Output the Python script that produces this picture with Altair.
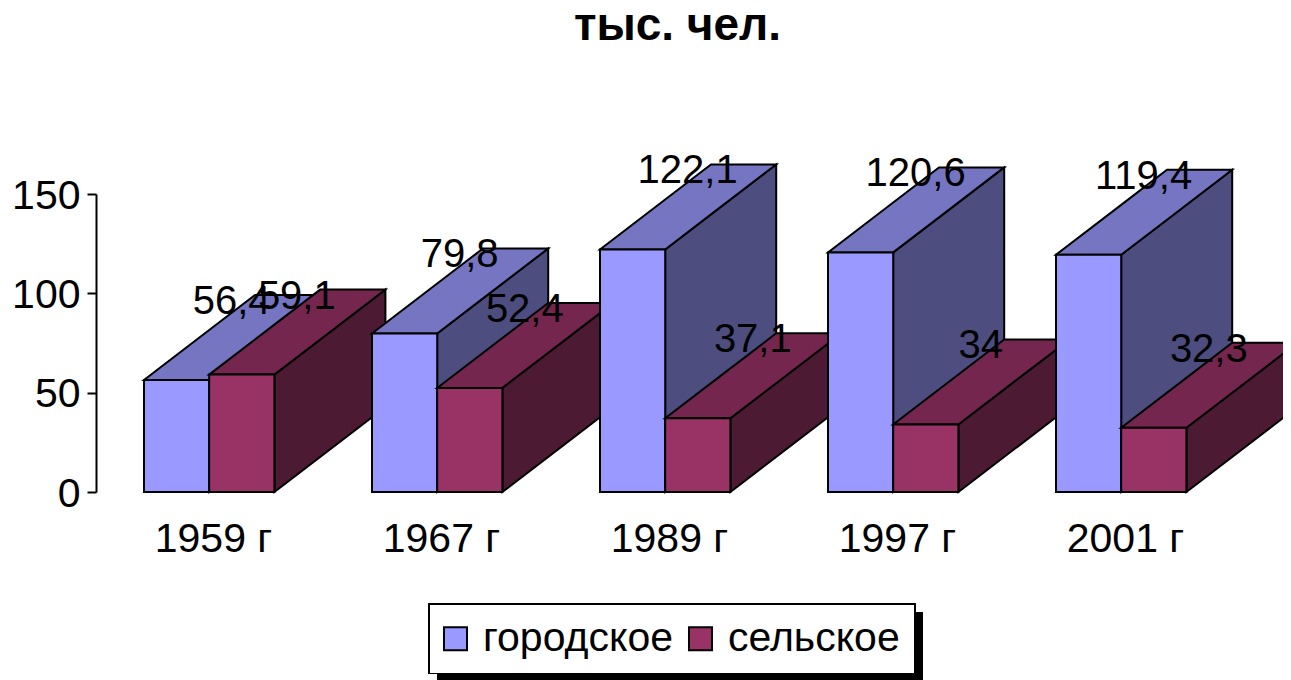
import json
import altair as alt
import pandas as pd

categories = ["1959 г", "1967 г", "1989 г", "1997 г", "2001 г"]
urban = [56.4, 79.8, 122.1, 120.6, 119.4]
rural = [59.1, 52.4, 37.1, 34, 32.3]
series_names = ["городское", "сельское"]
series_values = [urban, rural]

FONT = "Liberation Sans"
PITCH = 228.0            # pixels per category
W = 65.2 / PITCH         # front-face width, in category units
DX = 111 / PITCH         # depth along x, in category units
DY = 85 / (298 / 150)    # depth along y, in value units
GROUP_LEFT = -65 / PITCH

kinds = {
    "городское": ["городское", "городское верх", "городское бок"],
    "сельское": ["сельское", "сельское верх", "сельское бок"],
}
domain = ["городское", "сельское", "городское верх", "сельское верх", "городское бок", "сельское бок"]
colors = ["#9999FF", "#993366", "#7575C2", "#75264F", "#4D4D80", "#4D1A33"]

rows, labels = [], []
face = 0
for i, cat in enumerate(categories):
    for s, name in enumerate(series_names):
        v = series_values[s][i]
        x0 = i + GROUP_LEFT + s * W
        x1 = x0 + W
        front, top, side = kinds[name]

        def add(kind, pts):
            global face
            for x, y, y2 in pts:
                rows.append({"face": face, "kind": kind, "x": x, "y": y, "y2": y2})
            face += 1

        add(side, [(x1, 0, v), (x1 + DX, DY, v + DY)])
        add(top, [
            (x0, v, v),
            (x1, v, v + DY * W / DX),
            (x0 + DX, v + DY * (DX - W) / DX, v + DY),
            (x1 + DX, v + DY, v + DY),
        ])
        add(front, [(x0, 0, v), (x1, 0, v)])
        labels.append({"x": (x0 + x1) / 2, "y": v, "t": str(v).replace(".", ",")})

faces_df = pd.DataFrame(rows)
labels_df = pd.DataFrame(labels)

x_scale = alt.Scale(domain=[-113 / PITCH, 1074 / PITCH], nice=False, zero=False)
y_scale = alt.Scale(domain=[0, 150], nice=False)

label_expr = f"{json.dumps(categories, ensure_ascii=False)}[datum.value]"

x_axis = alt.Axis(
    values=list(range(len(categories))), labelExpr=label_expr, title=None, grid=False,
    domain=False, ticks=False, labelFont=FONT, labelFontSize=41, labelColor="black",
    labelPadding=27, labelOffset=4, labelOverlap=False, labelFlush=False)
y_axis = alt.Axis(
    values=[0, 50, 100, 150], title=None, grid=False, domainColor="black", domainWidth=2,
    tickColor="black", tickWidth=2, tickSize=9, labelFont=FONT, labelFontSize=41,
    labelColor="black", labelPadding=7, labelOffset=2)

faces = alt.Chart(faces_df).mark_area(stroke="black", strokeWidth=2, opacity=1, clip=False).encode(
    x=alt.X("x:Q", scale=x_scale, axis=x_axis),
    y=alt.Y("y:Q", stack=None, scale=y_scale, axis=y_axis),
    y2="y2:Q",
    detail="face:N",
    color=alt.Color("kind:N", scale=alt.Scale(domain=domain, range=colors), legend=alt.Legend(
        values=series_names, title=None, orient="none", legendX=333, legendY=410,
        direction="horizontal", columns=2, symbolType="square", symbolSize=530,
        symbolOffset=-8, symbolStrokeColor="black", symbolStrokeWidth=2, labelFont=FONT,
        labelFontSize=41, labelColor="black", labelLimit=400, fillColor="white",
        strokeColor="black", padding=14, columnPadding=11, labelOffset=7)),
)

text = alt.Chart(labels_df).mark_text(
    font=FONT, fontSize=40, color="black", dx=55, dy=-78, baseline="middle", align="center"
).encode(
    x=alt.X("x:Q", scale=x_scale, axis=x_axis),
    y=alt.Y("y:Q", scale=y_scale, axis=y_axis),
    text="t:N",
)

shadow = alt.Chart(alt.Data(values=[{}])).mark_rect(color="black").encode(
    x=alt.value(341), x2=alt.value(827), y=alt.value(418), y2=alt.value(486)
)
border = alt.Chart(alt.Data(values=[{}])).mark_rect(color="black").encode(
    x=alt.value(332), x2=alt.value(820), y=alt.value(409), y2=alt.value(480)
)

chart = alt.layer(faces, shadow, border, text).properties(
    width=1187, height=298, background="white",
    padding={"left": 88, "top": 186, "right": 0, "bottom": 188},
    autosize=alt.AutoSizeParams(type="none"),
    title=alt.TitleParams("тыс. чел.", font=FONT, fontSize=46, fontWeight="bold", color="black",
                          anchor="middle", dx=-12, offset=101),
).configure_view(stroke=None)

chart.save("out.html", embed_options={"renderer": "svg", "actions": False})
